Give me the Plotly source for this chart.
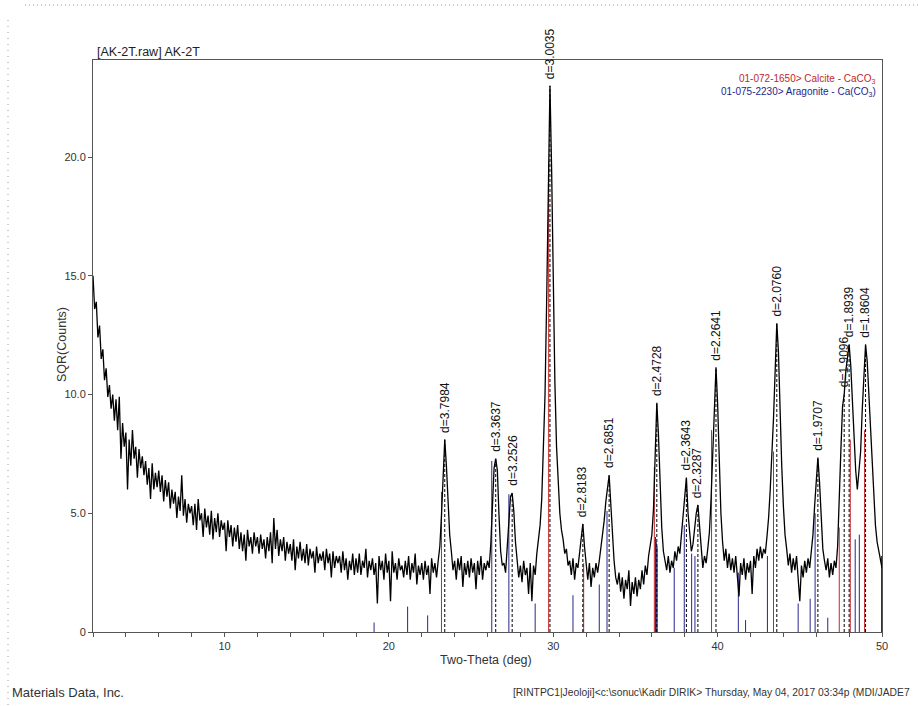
import plotly.graph_objects as go

# ---------------- data ----------------
SCAN_START = 2.0
SCAN_STEP = 0.1

# SQR(Counts), one row per degree (x.0 ... x.9), last value at 50.0
sqr_counts = [
    15.0, 13.6, 13.9, 12.4, 12.9, 11.5, 11.9, 10.6, 11.1, 9.9,    # 2
    10.4, 9.4, 10.0, 8.9, 9.8, 8.5, 9.9, 7.3, 8.8, 7.8,           # 3
    8.4, 6.0, 8.1, 7.0, 8.5, 7.3, 7.8, 6.5, 7.7, 6.9,             # 4
    7.4, 6.6, 7.2, 6.2, 6.9, 5.6, 7.1, 6.0, 6.7, 6.1,             # 5
    6.8, 5.9, 6.6, 5.5, 6.4, 5.7, 6.3, 5.2, 6.0, 5.4,             # 6
    5.9, 4.8, 5.7, 5.1, 6.6, 4.9, 5.6, 4.6, 5.4, 5.0,             # 7
    5.3, 4.5, 5.4, 4.3, 5.6, 4.7, 5.0, 4.0, 5.2, 4.4,             # 8
    4.9, 4.1, 5.1, 3.9, 4.8, 4.2, 5.0, 4.0, 4.7, 4.3,             # 9
    4.6, 3.4, 4.7, 4.0, 4.5, 3.6, 4.4, 3.8, 4.5, 3.5,             # 10
    4.2, 3.4, 4.1, 3.0, 4.3, 3.6, 4.0, 3.3, 4.2, 3.6,             # 11
    4.0, 3.3, 4.1, 3.5, 3.9, 3.1, 4.0, 3.4, 4.2, 2.9,             # 12
    4.8, 3.5, 4.3, 3.2, 3.9, 3.4, 4.0, 3.0, 3.8, 3.3,             # 13
    3.7, 3.0, 3.9, 2.6, 3.6, 3.1, 3.8, 3.0, 3.5, 2.9,             # 14
    3.7, 2.8, 3.5, 3.1, 3.4, 2.5, 3.6, 2.9, 3.3, 3.0,             # 15
    3.4, 2.6, 3.5, 2.9, 3.3, 2.3, 3.4, 2.7, 3.2, 2.9,             # 16
    3.2, 2.5, 3.4, 2.6, 3.1, 2.2, 3.0, 2.6, 3.3, 2.4,             # 17
    3.1, 2.5, 3.3, 2.4, 3.0, 2.7, 3.5, 2.3, 3.0, 2.6,             # 18
    3.1, 2.4, 2.9, 1.2, 3.2, 2.6, 3.0, 2.2, 3.3, 2.5,             # 19
    3.0, 1.3, 3.4, 2.5, 2.9, 2.2, 3.1, 2.6, 2.8, 2.3,             # 20
    3.0, 2.4, 3.2, 2.2, 2.9, 2.5, 3.3, 2.0, 2.8, 2.4,             # 21
    2.9, 2.2, 3.0, 2.4, 2.8, 1.6, 3.1, 2.5, 2.9, 2.3,             # 22
    3.0, 3.6, 4.9, 6.6, 8.1, 7.0, 5.3, 4.1, 3.4, 2.6,             # 23
    3.0, 2.2, 3.1, 2.6, 3.2, 1.9, 2.9, 2.4, 3.0, 2.3,             # 24
    3.1, 2.5, 2.9, 1.8, 3.0, 2.4, 3.2, 2.2, 2.9, 2.6,             # 25
    3.0, 2.7, 3.7, 5.2, 6.9, 7.3, 6.8, 4.9, 3.4, 2.8,             # 26
    2.9, 2.5, 3.5, 4.9, 5.7, 5.85, 5.1, 3.8, 2.9, 2.3,            # 27
    2.8, 2.1, 3.0, 2.4, 2.7, 1.6, 2.9, 1.3, 2.8, 2.4,             # 28
    3.3, 3.8, 4.5, 5.6, 7.4, 10.0, 14.0, 19.0, 23.0, 19.5,        # 29
    14.5, 10.5, 7.8, 6.0, 5.0, 4.3, 3.9, 3.3, 3.5, 2.8,           # 30
    3.0, 2.4, 3.1, 2.2, 2.9, 2.7, 3.4, 4.1, 4.55, 3.6,            # 31
    2.8, 2.2, 2.9, 1.9, 2.7, 2.3, 2.9, 2.5, 3.0, 3.5,             # 32
    4.1, 4.7, 5.5, 6.1, 6.6, 5.4, 4.0, 3.0, 2.3, 2.0,             # 33
    2.5, 1.7, 2.3, 1.4, 2.2, 1.8, 2.6, 1.1, 2.1, 1.6,             # 34
    2.3, 1.5, 2.2, 1.8, 2.6, 2.0, 2.8, 2.4, 3.2, 3.7,             # 35
    4.1, 5.2, 7.6, 9.65, 8.3, 5.9, 4.4, 3.4, 3.0, 2.6,            # 36
    3.2, 2.5, 3.0, 2.7, 3.4, 3.0, 3.6, 3.3, 4.1, 4.8,             # 37
    5.5, 6.5, 5.0, 4.0, 3.4, 3.7, 4.4, 5.0, 5.35, 4.4,            # 38
    3.3, 2.7, 3.2, 2.9, 3.5, 4.2, 5.6, 7.6, 9.8, 11.15,           # 39
    9.6, 7.0, 5.0, 3.8, 3.0, 3.5, 2.7, 3.3, 2.6, 3.1,             # 40
    2.5, 3.2, 2.3, 1.5, 2.9, 2.4, 3.1, 2.2, 2.9, 2.5,             # 41
    3.0, 1.6, 3.2, 2.7, 3.5, 3.0, 3.6, 3.1, 3.5, 3.3,             # 42
    4.0, 4.8, 6.0, 7.4, 9.0, 11.0, 13.0, 11.8, 9.2, 7.0,          # 43
    5.3, 4.1, 3.5, 2.8, 3.3, 2.5, 3.1, 2.6, 3.2, 2.4,             # 44
    1.3, 2.8, 2.3, 3.0, 2.5, 3.1, 2.7, 3.4, 4.1, 5.3,             # 45
    6.5, 7.35, 6.3, 4.6, 3.5, 3.0, 2.6, 3.1, 2.3, 2.9,            # 46
    2.4, 3.0, 2.7, 3.6, 5.3, 7.7, 9.5, 10.0, 11.0, 11.6,          # 47
    12.1, 11.2, 9.6, 8.2, 6.8, 6.0, 7.0, 7.6, 9.4, 11.1,          # 48
    12.1, 11.4, 10.0, 8.3, 6.8, 5.5, 4.5, 3.8, 3.4, 3.0,          # 49
    2.7,                                                          # 50
]
two_theta = [round(SCAN_START + SCAN_STEP * i, 2) for i in range(len(sqr_counts))]

# labelled peaks
peak_two_theta = [23.4, 26.5, 27.5, 29.8, 31.8, 33.4, 36.3, 38.1, 38.8, 39.9,
                  43.6, 46.1, 47.7, 48.0, 49.0]
peak_labels = ["d=3.7984", "d=3.3637", "d=3.2526", "d=3.0035", "d=2.8183",
               "d=2.6851", "d=2.4728", "d=2.3643", "d=2.3287", "d=2.2641",
               "d=2.0760", "d=1.9707", "d=1.9096", "d=1.8939", "d=1.8604"]

# reference sticks: 01-072-1650 Calcite
calcite_two_theta = [23.2, 29.72, 31.85, 36.15, 39.63, 43.4, 47.4, 48.07, 48.94]
calcite_height = [5.9, 19.8, 2.9, 6.95, 8.5, 7.6, 4.4, 8.1, 8.5]

# reference sticks: 01-075-2230 Aragonite
aragonite_two_theta = [19.1, 21.14, 22.36, 26.26, 27.3, 28.9, 31.2, 32.8, 33.27,
                       36.22, 36.27, 36.32, 37.36, 37.97, 38.42, 38.62, 41.26,
                       41.7, 43.03, 44.9, 45.63, 45.93, 46.7, 48.37, 48.62, 49.97]
aragonite_height = [0.4, 1.07, 0.7, 7.2, 5.8, 1.2, 1.55, 2.0, 5.1,
                    4.0, 3.8, 3.6, 2.7, 4.5, 3.3, 3.2, 2.5,
                    0.5, 3.2, 1.2, 1.4, 5.0, 0.6, 3.9, 4.1, 3.2]

y_tick_vals = [0, 5, 10, 15, 20]
y_tick_text = ["0", "5.0", "10.0", "15.0", "20.0"]
x_tick_vals = [10, 20, 30, 40, 50]

# ---------------- layout helpers ----------------
W, H = 918, 706
PL, PR, PT, PB = 93, 36, 60, 74
plot_w = W - PL - PR
plot_h = H - PT - PB


def px(xp):
    return (xp - PL) / plot_w


def py(yp):
    return (H - PB - yp) / plot_h


FONT = "Arial, Liberation Sans, sans-serif"
RED = "#c0282d"
BLUE = "#26268c"


def sticks(xs, hs):
    sx, sy = [], []
    for x, h in zip(xs, hs):
        sx += [x, x, None]
        sy += [0, h, None]
    return sx, sy


fig = go.Figure()

ax, ay = sticks(aragonite_two_theta, aragonite_height)
fig.add_trace(go.Scatter(x=ax, y=ay, mode="lines", line=dict(color=BLUE, width=1),
                         hoverinfo="skip", showlegend=False))
cx, cy = sticks(calcite_two_theta, calcite_height)
fig.add_trace(go.Scatter(x=cx, y=cy, mode="lines", line=dict(color=RED, width=1),
                         hoverinfo="skip", showlegend=False))

fig.add_trace(go.Scatter(x=two_theta, y=sqr_counts, mode="lines",
                         line=dict(color="#000000", width=1.3), showlegend=False))

peak_height = [sqr_counts[int(round((p - SCAN_START) / SCAN_STEP))] for p in peak_two_theta]
dx, dy = sticks(peak_two_theta, peak_height)
fig.add_trace(go.Scatter(x=dx, y=dy, mode="lines",
                         line=dict(color="#000000", width=1, dash="3px,2px"),
                         hoverinfo="skip", showlegend=False))

annotations = []
for p, h, lab in zip(peak_two_theta, peak_height, peak_labels):
    annotations.append(dict(x=p, y=h, xref="x", yref="y", text=lab, showarrow=False,
                            textangle=-90, xanchor="center", yanchor="bottom", yshift=5,
                            font=dict(family=FONT, size=12, color="#111111")))

annotations += [
    dict(x=px(95), y=py(52), xref="paper", yref="paper", text="[AK-2T.raw] AK-2T",
         showarrow=False, xanchor="left", yanchor="middle",
         font=dict(family=FONT, size=12.5, color="#222222")),
    dict(x=px(878), y=py(79), xref="paper", yref="paper",
         text="01-072-1650&gt; Calcite - CaCO<sub>3</sub>",
         showarrow=False, xanchor="right", yanchor="middle",
         font=dict(family=FONT, size=10, color=RED)),
    dict(x=px(878), y=py(92), xref="paper", yref="paper",
         text="01-075-2230&gt; Aragonite - Ca(CO<sub>3</sub>)",
         showarrow=False, xanchor="right", yanchor="middle",
         font=dict(family=FONT, size=10, color=BLUE)),
    dict(x=px(62), y=py(345), xref="paper", yref="paper", text="SQR(Counts)",
         showarrow=False, textangle=-90, xanchor="center", yanchor="middle",
         font=dict(family=FONT, size=12.5, color="#333333")),
    dict(x=px(486), y=py(660), xref="paper", yref="paper", text="Two-Theta (deg)",
         showarrow=False, xanchor="center", yanchor="middle",
         font=dict(family=FONT, size=12.5, color="#333333")),
    dict(x=px(10), y=py(692), xref="paper", yref="paper", text="Materials Data, Inc.",
         showarrow=False, xanchor="left", yanchor="middle",
         font=dict(family=FONT, size=13, color="#333333")),
    dict(x=px(511), y=py(692), xref="paper", yref="paper",
         text="[RINTPC1|Jeoloji]&lt;c:\\sonuc\\Kadir DIRIK&gt; Thursday, May 04, 2017 03:34p (MDI/JADE7",
         showarrow=False, xanchor="left", yanchor="middle",
         font=dict(family=FONT, size=10.3, color="#333333")),
]

shapes = [
    dict(type="line", xref="paper", yref="paper", x0=px(25), x1=px(918), y0=py(5), y1=py(5),
         line=dict(color="#9a9a9a", width=1, dash="1px,3px")),
    dict(type="line", xref="paper", yref="paper", x0=px(8), x1=px(8), y0=py(20), y1=py(706),
         line=dict(color="#9a9a9a", width=1, dash="1px,5px")),
]

fig.update_layout(
    width=W, height=H,
    margin=dict(l=PL, r=PR, t=PT, b=PB, pad=0),
    paper_bgcolor="white", plot_bgcolor="white",
    font=dict(family=FONT, size=11, color="#333333"),
    showlegend=False,
    annotations=annotations,
    shapes=shapes,
    xaxis=dict(range=[2, 50], tickvals=x_tick_vals, ticks="outside", ticklen=4,
               tickcolor="#555555", showline=True, mirror=True, linecolor="#555555",
               linewidth=1, showgrid=False, zeroline=False,
               tickfont=dict(family=FONT, size=11, color="#333333"),
               minor=dict(tick0=0, dtick=2, ticks="outside", ticklen=4, tickcolor="#555555")),
    yaxis=dict(range=[0, (H - PB - PT) / 23.75], tickvals=y_tick_vals, ticktext=y_tick_text,
               ticks="outside", ticklen=4, tickcolor="#555555", showline=True, mirror=True,
               linecolor="#555555", linewidth=1, showgrid=False, zeroline=False,
               tickfont=dict(family=FONT, size=11, color="#333333")),
)

fig.write_html("out.html")
